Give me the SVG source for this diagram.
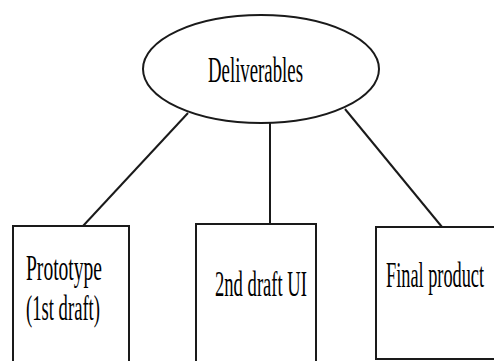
<svg xmlns="http://www.w3.org/2000/svg" width="494" height="361" viewBox="0 0 494 361">
  <style>
    .shape { fill: #ffffff; stroke: #1a1a1a; stroke-width: 2; }
    .link { stroke: #1a1a1a; stroke-width: 2; fill: none; }
    .label { font-family: "Liberation Serif", "Times New Roman", serif; font-size: 36px; fill: #000000; }
  </style>
  <rect width="494" height="361" fill="#ffffff"/>

  <!-- connectors from the root ellipse down to each box -->
  <g id="connectors">
    <line class="link" x1="188" y1="113" x2="83" y2="226"/>
    <line class="link" x1="270" y1="123" x2="270" y2="224"/>
    <line class="link" x1="345" y1="109" x2="442" y2="227"/>
  </g>

  <g id="deliverables">
    <ellipse class="shape" cx="261" cy="69" rx="118" ry="54"/>
    <text class="label" x="208" y="82" textLength="95" lengthAdjust="spacingAndGlyphs">Deliverables</text>
  </g>

  <g id="prototype">
    <rect class="shape" x="13" y="226" width="116" height="145"/>
    <text class="label" x="26" y="280" textLength="76" lengthAdjust="spacingAndGlyphs">Prototype</text>
    <text class="label" x="26" y="320" textLength="74" lengthAdjust="spacingAndGlyphs">(1st draft)</text>
  </g>

  <g id="second-draft">
    <rect class="shape" x="196" y="224" width="120" height="147"/>
    <text class="label" x="215" y="296" textLength="92" lengthAdjust="spacingAndGlyphs">2nd draft UI</text>
  </g>

  <g id="final-product">
    <!-- box runs on past the right border, so only three sides are drawn -->
    <path class="shape" d="M494,227 H376 V359 H494"/>
    <text class="label" x="386" y="287" textLength="98" lengthAdjust="spacingAndGlyphs">Final product</text>
  </g>
</svg>
